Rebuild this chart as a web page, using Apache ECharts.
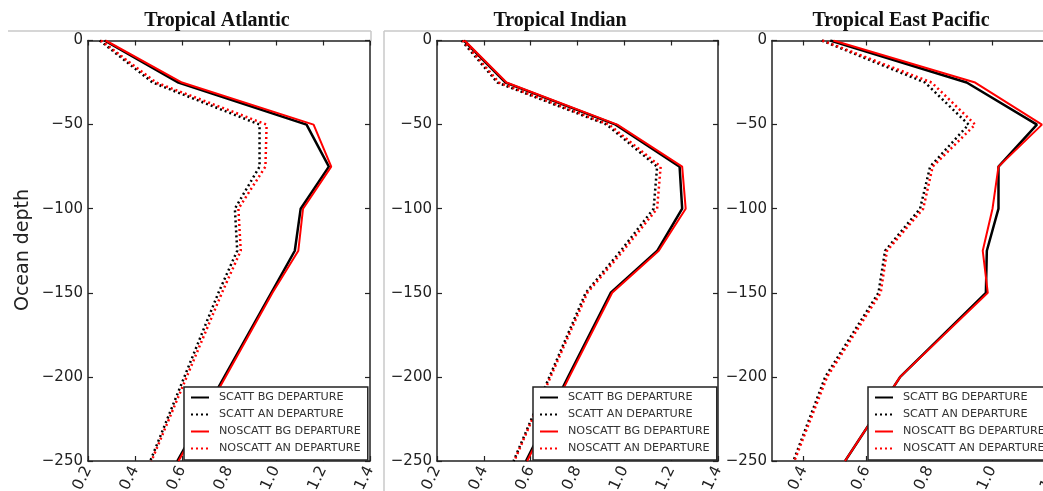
<!DOCTYPE html>
<html>
<head>
<meta charset="utf-8">
<script src="https://cdn.jsdelivr.net/npm/echarts@6/dist/echarts.min.js"></script>
<style>html,body{margin:0;padding:0;background:#fff;}#c{width:1043px;height:491px;}</style>
</head>
<body>
<div id="c"></div>
<script>
// ---- data ----
const depths = [0, -25, -50, -75, -100, -125, -150, -200, -250];
const seriesNames = ['SCATT BG DEPARTURE', 'SCATT AN DEPARTURE', 'NOSCATT BG DEPARTURE', 'NOSCATT AN DEPARTURE'];
const panelTitles = ['Tropical Atlantic', 'Tropical Indian', 'Tropical East Pacific'];

const atlScattBG   = [0.27, 0.585, 1.13, 1.225, 1.105, 1.08, 0.98, 0.78, 0.58];
const atlScattAN   = [0.25, 0.475, 0.93, 0.93, 0.825, 0.835, 0.755, 0.61, 0.465];
const atlNoscattBG = [0.275, 0.60, 1.16, 1.235, 1.115, 1.095, 0.985, 0.785, 0.585];
const atlNoscattAN = [0.255, 0.49, 0.96, 0.955, 0.84, 0.85, 0.77, 0.62, 0.47];

const indScattBG   = [0.315, 0.493, 0.963, 1.236, 1.247, 1.141, 0.942, 0.76, 0.58];
const indScattAN   = [0.305, 0.458, 0.925, 1.14, 1.125, 0.985, 0.835, 0.68, 0.527];
const indNoscattBG = [0.318, 0.497, 0.97, 1.247, 1.262, 1.147, 0.948, 0.765, 0.585];
const indNoscattAN = [0.31, 0.465, 0.935, 1.155, 1.14, 0.995, 0.842, 0.685, 0.53];

const pacScattBG   = [0.485, 0.918, 1.141, 1.019, 1.019, 0.982, 0.979, 0.707, 0.532];
const pacScattAN   = [0.458, 0.786, 0.924, 0.802, 0.77, 0.659, 0.638, 0.469, 0.368];
const pacNoscattBG = [0.495, 0.945, 1.157, 1.019, 1.0, 0.969, 0.985, 0.707, 0.532];
const pacNoscattAN = [0.46, 0.807, 0.945, 0.81, 0.78, 0.665, 0.645, 0.475, 0.371];

const xTicksP12 = [0.2, 0.4, 0.6, 0.8, 1.0, 1.2, 1.4];
const xTicksP3  = [0.4, 0.6, 0.8, 1.0, 1.2];
const yTicks    = [0, -50, -100, -150, -200, -250];

// ---- layout ----
const panels = [
  {left: 88,  width: 282, min: 0.2, max: 1.4, ticks: xTicksP12, data: [atlScattBG, atlScattAN, atlNoscattBG, atlNoscattAN], cx: 217, legendLeft: 184},
  {left: 437, width: 281, min: 0.2, max: 1.4, ticks: xTicksP12, data: [indScattBG, indScattAN, indNoscattBG, indNoscattAN], cx: 560, legendLeft: 533},
  {left: 772, width: 315, min: 0.3, max: 1.3, ticks: xTicksP3,  data: [pacScattBG, pacScattAN, pacNoscattBG, pacNoscattAN], cx: 901, legendLeft: 868}
];
const gridTop = 40.5, gridH = 420.5;
const axisColor = '#222';
const styles = [
  {color: '#000', width: 2.5, type: 'solid'},
  {color: '#000', width: 2.5, type: [2, 3]},
  {color: '#ff0000', width: 2, type: 'solid'},
  {color: '#ff0000', width: 2.5, type: [2, 3]}
];
const minus = v => (v === 0 ? '0' : '\u2212' + Math.abs(v));

const grid = [], xAxis = [], yAxis = [], series = [], legend = [], graphic = [];
panels.forEach((p, g) => {
  grid.push({left: p.left, top: gridTop, width: p.width, height: gridH, containLabel: false, outerBoundsMode: 'none'});
  const tickStyle = {color: axisColor, width: 1.2};
  const baseX = {
    type: 'value', gridIndex: g, min: p.min, max: p.max,
    axisLine: {show: true, onZero: false, lineStyle: {color: axisColor, width: 1.5}},
    axisTick: {show: true, inside: true, length: 5, customValues: p.ticks, lineStyle: tickStyle},
    splitLine: {show: false}
  };
  xAxis.push(Object.assign({}, baseX, {
    position: 'bottom',
    axisLabel: {customValues: p.ticks, rotate: 64, margin: 6, fontSize: 15.5, color: axisColor,
      fontFamily: 'DejaVu Sans', formatter: v => v.toFixed(1)}
  }));
  xAxis.push(Object.assign({}, baseX, {position: 'top', axisLabel: {show: false}}));
  const baseY = {
    type: 'value', gridIndex: g, min: -250, max: 0, interval: 50,
    axisLine: {show: true, onZero: false, lineStyle: {color: axisColor, width: 1.5}},
    axisTick: {show: true, inside: true, length: 5, lineStyle: tickStyle},
    splitLine: {show: false}
  };
  yAxis.push(Object.assign({}, baseY, {
    position: 'left',
    axisLabel: {margin: 5, fontSize: 15, color: axisColor, fontFamily: 'DejaVu Sans', formatter: minus}
  }));
  yAxis.push(Object.assign({}, baseY, {position: 'right', axisLabel: {show: false}}));

  p.data.forEach((xs, k) => {
    series.push({
      type: 'line', name: seriesNames[k], xAxisIndex: g * 2, yAxisIndex: g * 2,
      data: xs.map((x, i) => [x, depths[i]]),
      symbol: 'none', clip: true, silent: true,
      itemStyle: {color: styles[k].color},
      lineStyle: styles[k]
    });
  });

  legend.push({
    orient: 'vertical', left: p.legendLeft, top: 387, data: seriesNames,
    itemWidth: 18, itemHeight: 10, itemGap: 6, padding: [5, 7, 6, 6],
    backgroundColor: '#fff', borderColor: axisColor, borderWidth: 1.5, borderRadius: 0,
    selectedMode: false,
    itemStyle: {opacity: 0},
    textStyle: {fontSize: 11.2, color: '#333', fontFamily: 'DejaVu Sans', padding: [0, 0, 0, 5]}
  });

  graphic.push({
    type: 'text', x: p.cx, y: 21, z: 10,
    style: {text: panelTitles[g], textAlign: 'center', textVerticalAlign: 'middle',
      font: 'bold 20px "Liberation Serif"', fill: '#111'}
  });
});

// frame remnants
graphic.push({type: 'line', shape: {x1: 8, y1: 31, x2: 371, y2: 31}, style: {stroke: '#c8c8c8', lineWidth: 1.5}, z: 1});
graphic.push({type: 'line', shape: {x1: 371, y1: 31, x2: 371, y2: 41}, style: {stroke: '#c8c8c8', lineWidth: 1.5}, z: 1});
graphic.push({type: 'line', shape: {x1: 384, y1: 31, x2: 1043, y2: 31}, style: {stroke: '#c8c8c8', lineWidth: 1.5}, z: 1});
graphic.push({type: 'line', shape: {x1: 384, y1: 31, x2: 384, y2: 491}, style: {stroke: '#c8c8c8', lineWidth: 1.5}, z: 1});
graphic.push({
  type: 'text', x: 23, y: 250, rotation: Math.PI / 2, z: 10,
  style: {text: 'Ocean depth', textAlign: 'center', textVerticalAlign: 'middle',
    font: '19px "DejaVu Sans"', fill: '#222'}
});

const chart = echarts.init(document.getElementById('c'));
chart.setOption({animation: false, backgroundColor: '#fff', grid, xAxis, yAxis, series, legend, graphic});
</script>
</body>
</html>
